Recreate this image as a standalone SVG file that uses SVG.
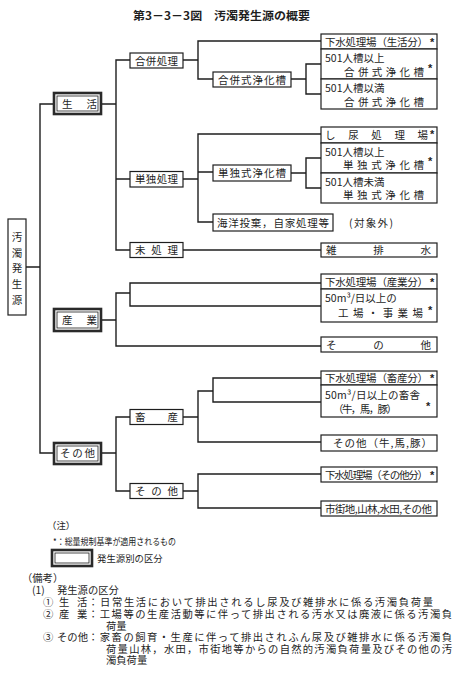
<svg xmlns="http://www.w3.org/2000/svg" width="455" height="694" viewBox="0 0 455 694">
<style>
.ln{stroke:#1e1e1e;stroke-width:1.4;fill:none;stroke-linecap:square}
.bx{fill:#fff;stroke:#1e1e1e;stroke-width:1.2}
.bo{fill:#fff;stroke:#2a2a2a;stroke-width:2.6}
.bi{fill:none;stroke:#1e1e1e;stroke-width:0.8}
.t{font-family:"Noto Sans CJK JP","Noto Sans",sans-serif;font-size:10.5px;fill:#1e1e1e}
.n{font-family:"Noto Sans CJK JP","Noto Sans",sans-serif;font-size:10.3px;fill:#1e1e1e}
.m{font-family:"Noto Sans CJK JP","Noto Sans",sans-serif;font-size:9.4px;fill:#1e1e1e}
.s{font-family:"Liberation Sans",sans-serif;font-size:11px;font-weight:bold;fill:#1e1e1e}
.ti{font-family:"Noto Sans CJK JP",sans-serif;font-size:11px;font-weight:bold;fill:#1e1e1e}
</style>
<rect width="455" height="694" fill="#fff"/>
<text class="ti" x="133" y="20" textLength="177" lengthAdjust="spacingAndGlyphs">第3－3－3図　汚濁発生源の概要</text>

<g id="connectors">
<path class="ln" d="M26 267H40M40 104V453M40 104H54M40 453H54"/>
<path class="ln" d="M101 104H116M116 60V250M116 60H130M116 179H130M116 250H130"/>
<path class="ln" d="M183 60H198M198 41V79M198 41H321M198 79H213M291 79H306M306 64V94M306 64H321M306 94H321"/>
<path class="ln" d="M183 179H198M198 134V222M198 134H321M198 172H213M198 222H213M291 173H306M306 158V188M306 158H321M306 188H321"/>
<path class="ln" d="M183 250H321"/>
<path class="ln" d="M101 320H116M116 293V346M116 293H130M130 283V306M130 283H321M130 306H321M116 346H321"/>
<path class="ln" d="M101 453H116M116 417V491M116 417H130M116 491H130"/>
<path class="ln" d="M183 417H198M198 391V442M198 391H213M213 378V402M213 378H321M213 402H321M198 442H321"/>
<path class="ln" d="M183 491H198M198 474V508M198 474H321M198 508H321"/>
</g>

<g id="root">
<rect class="bx" x="8" y="219" width="18" height="96"/>
<text class="t" x="17" y="241" text-anchor="middle">汚</text>
<text class="t" x="17" y="257" text-anchor="middle">濁</text>
<text class="t" x="17" y="272" text-anchor="middle">発</text>
<text class="t" x="17" y="288" text-anchor="middle">生</text>
<text class="t" x="17" y="304" text-anchor="middle">源</text>
</g>

<g id="seikatsu">
<rect class="bo" x="54" y="93" width="47" height="21"/>
<rect class="bi" x="57" y="96" width="41" height="15"/>
<text class="t" x="62" y="108" textLength="35" lengthAdjust="spacing">生活</text>
</g>
<g id="sangyo">
<rect class="bo" x="54" y="309" width="47" height="22"/>
<rect class="bi" x="57" y="312" width="41" height="16"/>
<text class="t" x="62" y="324" textLength="35" lengthAdjust="spacing">産業</text>
</g>
<g id="sonota">
<rect class="bo" x="54" y="443" width="47" height="21"/>
<rect class="bi" x="57" y="446" width="41" height="15"/>
<text class="t" x="60" y="457" textLength="35" lengthAdjust="spacing">その他</text>
</g>

<g id="gappei">
<rect class="bx" x="130" y="53" width="53" height="15"/>
<text class="t" x="135" y="64.5" textLength="43" lengthAdjust="spacing">合併処理</text>
</g>
<g id="tandoku">
<rect class="bx" x="130" y="171.5" width="53" height="15.5"/>
<text class="t" x="135" y="183" textLength="43" lengthAdjust="spacing">単独処理</text>
</g>
<g id="mishori">
<rect class="bx" x="130" y="242.5" width="53" height="15"/>
<text class="t" x="135" y="254" textLength="43" lengthAdjust="spacing">未処理</text>
</g>
<g id="chikusan">
<rect class="bx" x="130" y="409.5" width="53" height="15"/>
<text class="t" x="135" y="421" textLength="43" lengthAdjust="spacing">畜産</text>
</g>
<g id="sonota2">
<rect class="bx" x="130" y="483.5" width="53" height="15"/>
<text class="t" x="135" y="495" textLength="43" lengthAdjust="spacing">その他</text>
</g>

<g id="gappei-jokaso">
<rect class="bx" x="213" y="72" width="78" height="15"/>
<text class="t" x="218" y="83.5" textLength="68" lengthAdjust="spacing">合併式浄化槽</text>
</g>
<g id="tandoku-jokaso">
<rect class="bx" x="213" y="165" width="78" height="16"/>
<text class="t" x="218" y="177" textLength="68" lengthAdjust="spacing">単独式浄化槽</text>
</g>
<g id="kaiyo">
<rect class="bx" x="213" y="214" width="120" height="17"/>
<text class="t" x="217" y="226.5" textLength="112" lengthAdjust="spacing">海洋投棄，自家処理等</text>
<text class="t" x="349" y="226.5" textLength="44" lengthAdjust="spacing">(対象外)</text>
</g>

<g id="gesui-seikatsu">
<rect class="bx" x="321" y="34" width="116" height="15"/>
<text class="t" x="325" y="45.5" textLength="103" lengthAdjust="spacing">下水処理場（生活分）</text>
<text class="s" x="430" y="46">*</text>
</g>
<g id="gappei-501ijo">
<rect class="bx" x="321" y="49" width="116" height="30"/>
<text class="t" x="325" y="61.5">501人槽以上</text>
<text class="t" x="344" y="75.5" textLength="80" lengthAdjust="spacing">合併式浄化槽</text>
<text class="s" x="428" y="72">*</text>
</g>
<g id="gappei-501miman">
<rect class="bx" x="321" y="79" width="116" height="30"/>
<text class="t" x="325" y="91.5">501人槽以満</text>
<text class="t" x="344" y="105.5" textLength="80" lengthAdjust="spacing">合併式浄化槽</text>
</g>

<g id="shinyo">
<rect class="bx" x="321" y="127" width="116" height="16"/>
<text class="t" x="325" y="139" textLength="103" lengthAdjust="spacing">し尿処理場</text>
<text class="s" x="430" y="138">*</text>
</g>
<g id="tandoku-501ijo">
<rect class="bx" x="321" y="143" width="116" height="30"/>
<text class="t" x="325" y="155.5">501人槽以上</text>
<text class="t" x="343" y="168.5" textLength="81" lengthAdjust="spacing">単独式浄化槽</text>
<text class="s" x="428" y="165">*</text>
</g>
<g id="tandoku-501miman">
<rect class="bx" x="321" y="173" width="116" height="30"/>
<text class="t" x="325" y="185.5">501人槽未満</text>
<text class="t" x="343" y="198.5" textLength="81" lengthAdjust="spacing">単独式浄化槽</text>
</g>

<g id="zatsuhaisui">
<rect class="bx" x="321" y="243" width="116" height="14"/>
<text class="t" x="326" y="254" textLength="105" lengthAdjust="spacing">雑排水</text>
</g>

<g id="gesui-sangyo">
<rect class="bx" x="321" y="274" width="116" height="15"/>
<text class="t" x="325" y="285.5" textLength="103" lengthAdjust="spacing">下水処理場（産業分）</text>
<text class="s" x="430" y="286">*</text>
</g>
<g id="kojo">
<rect class="bx" x="321" y="289" width="116" height="33"/>
<text class="t" x="325" y="302">50m³/日以上の</text>
<text class="t" x="338" y="317" textLength="85" lengthAdjust="spacing">工場・事業場</text>
<text class="s" x="428" y="314">*</text>
</g>
<g id="sangyo-sonota">
<rect class="bx" x="321" y="337" width="116" height="15"/>
<text class="t" x="326" y="348.5" textLength="105" lengthAdjust="spacing">その他</text>
</g>

<g id="gesui-chikusan">
<rect class="bx" x="321" y="371" width="116" height="14"/>
<text class="t" x="325" y="382" textLength="103" lengthAdjust="spacing">下水処理場（畜産分）</text>
<text class="s" x="430" y="382">*</text>
</g>
<g id="chikusha">
<rect class="bx" x="321" y="385" width="116" height="32"/>
<text class="t" x="325" y="398.5" textLength="95" lengthAdjust="spacing">50m³/日以上の畜舎</text>
<text class="t" x="333" y="413" textLength="64" lengthAdjust="spacing">（牛，馬，豚）</text>
<text class="s" x="426" y="410">*</text>
</g>
<g id="chikusan-sonota">
<rect class="bx" x="321" y="435" width="116" height="16"/>
<text class="t" x="333" y="447" textLength="99" lengthAdjust="spacing">その他（牛,馬,豚）</text>
</g>

<g id="gesui-sonota">
<rect class="bx" x="321" y="467" width="116" height="15"/>
<text class="t" x="325" y="478.5" textLength="103" lengthAdjust="spacing">下水処理場（その他分）</text>
<text class="s" x="430" y="479">*</text>
</g>
<g id="shigaichi">
<rect class="bx" x="321" y="501" width="116" height="15"/>
<text class="t" x="325" y="512.5" textLength="107" lengthAdjust="spacing">市街地,山林,水田,その他</text>
</g>

<g id="notes">
<text class="m" x="47" y="529">（注）</text>
<text class="m" x="53" y="545" textLength="123" lengthAdjust="spacingAndGlyphs">*：総量規制基準が適用されるもの</text>
<rect class="bo" x="52" y="550" width="40" height="16"/>
<rect class="bi" x="55" y="553" width="34" height="10"/>
<text class="m" x="97" y="562">発生源別の区分</text>
<text class="n" x="22" y="582">（備考）</text>
<text class="n" x="32" y="594">(1)</text>
<text class="n" x="57" y="594">発生源の区分</text>
<text class="n" x="43" y="606">①</text>
<text class="n" x="59" y="606">生</text>
<text class="n" x="77" y="606">活</text>
<text class="n" x="88" y="606" textLength="345" lengthAdjust="spacing">：日常生活において排出されるし尿及び雑排水に係る汚濁負荷量</text>
<text class="n" x="43" y="618">②</text>
<text class="n" x="59" y="618">産</text>
<text class="n" x="77" y="618">業</text>
<text class="n" x="88" y="618" textLength="364" lengthAdjust="spacing">：工場等の生産活動等に伴って排出される汚水又は廃液に係る汚濁負</text>
<text class="n" x="106" y="629.5">荷量</text>
<text class="n" x="43" y="641">③</text>
<text class="n" x="57" y="641" textLength="31" lengthAdjust="spacing">その他</text>
<text class="n" x="88" y="641" textLength="364" lengthAdjust="spacing">：家畜の飼育・生産に伴って排出されふん尿及び雑排水に係る汚濁負</text>
<text class="n" x="106" y="652.5" textLength="346" lengthAdjust="spacing">荷量山林，水田，市街地等からの自然的汚濁負荷量及びその他の汚</text>
<text class="n" x="106" y="664">濁負荷量</text>
</g>
</svg>
